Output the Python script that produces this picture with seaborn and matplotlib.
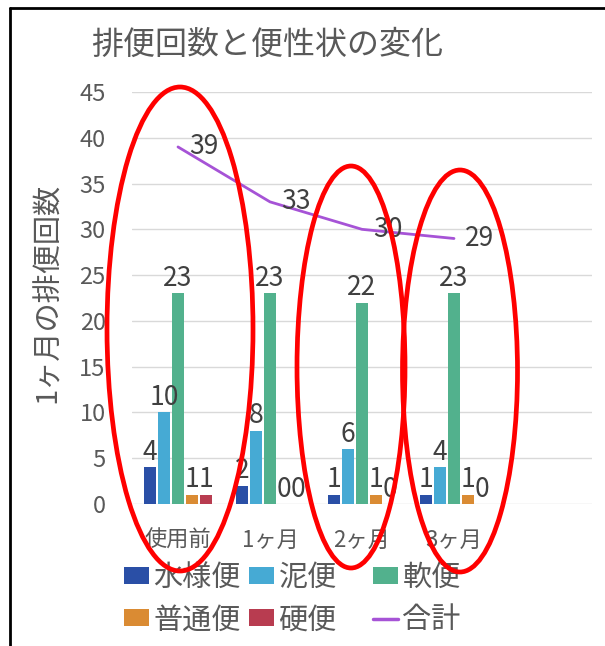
import numpy as np
import pandas as pd
import matplotlib
matplotlib.use("Agg")
import matplotlib.pyplot as plt
from matplotlib.patches import Ellipse
from matplotlib.lines import Line2D
import seaborn as sns

# ---- data ----
periods = ["使用前", "1ヶ月", "2ヶ月", "3ヶ月"]
stool_types = ["水様便", "泥便", "軟便", "普通便", "硬便"]
watery = [4, 2, 1, 1]
muddy = [10, 8, 6, 4]
soft = [23, 23, 22, 23]
normal = [1, 0, 1, 1]
hard = [1, 0, 0, 0]
total = [39, 33, 30, 29]
total_label = "合計"
y_ticks = [0, 5, 10, 15, 20, 25, 30, 35, 40, 45]

title = "排便回数と便性状の変化"
y_label = "1ヶ月の排便回数"

type_colors = ["#2A4FA6", "#46AAD4", "#52B18D", "#DA8B33", "#B83C50"]
line_color = "#A653D6"

df = pd.DataFrame({
    "period": np.repeat(periods, len(stool_types)),
    "type": stool_types * len(periods),
    "count": np.array([watery, muddy, soft, normal, hard]).T.ravel(),
})

# ---- style ----
sns.set_style("white")
plt.rcParams["font.family"] = ["Noto Sans CJK JP", "DejaVu Sans"]
text_gray = "#595959"
label_dark = "#404040"

W, H = 605, 646
fig = plt.figure(figsize=(W / 100, H / 100), dpi=100)
ax = fig.add_axes([132 / W, 1 - 504 / H, (592 - 132) / W, (504 - 92) / H])

sns.barplot(data=df, x="period", y="count", hue="type", order=periods,
            hue_order=stool_types, palette=type_colors, saturation=1,
            width=0.76, gap=0.2, linewidth=0, ax=ax, legend=False)

sns.pointplot(x=periods, y=total, order=periods, color=line_color,
              linewidth=2.0, markersize=0, errorbar=None, ax=ax)

# value labels on bars
for cont in ax.containers:
    ax.bar_label(cont, labels=[f"{int(v)}" for v in cont.datavalues],
                 padding=1, fontsize=19, color=label_dark)

# value labels on the total line
for i, v in enumerate(total):
    ax.annotate(f"{v}", xy=(i, v), xytext=(8, 0), textcoords="offset points",
                ha="left", va="center", fontsize=19, color=label_dark)

ax.set_xlim(-0.5, 4.5)
ax.set_ylim(0, 45)
ax.set_yticks(y_ticks)
ax.set_yticklabels([str(t) for t in y_ticks])
ax.grid(axis="y", color="#D9D9D9", linewidth=1.0)
ax.set_axisbelow(True)
for s in ax.spines.values():
    s.set_visible(False)
ax.tick_params(axis="y", length=0, pad=19, labelsize=17, labelcolor=text_gray)
ax.tick_params(axis="x", length=0, pad=18, labelsize=16, labelcolor=text_gray)
ax.set_xlabel("")
ax.set_ylabel("")

fig.text(267 / W, 1 - 45 / H, title, ha="center", va="center",
         fontsize=23, color=text_gray)
fig.text(48 / W, 1 - 293 / H, y_label, ha="center", va="center",
         rotation=90, fontsize=21, color=text_gray)

# legend: three columns of two entries each
bar_handles = [c.patches[0] for c in ax.containers]
line_handle = Line2D([], [], color=line_color, linewidth=2.5)
handles = bar_handles + [line_handle]
labels = stool_types + [total_label]
columns = [(0, 3), (1, 4), (2, 5)]
col_x = [124, 249, 373]
for (a, b), x0 in zip(columns, col_x):
    fig.legend([handles[a], handles[b]], [labels[a], labels[b]],
               loc="upper left", bbox_to_anchor=(x0 / W, 1 - 563 / H),
               frameon=False, fontsize=21, handlelength=0.86,
               handleheight=0.52, handletextpad=0.15, labelspacing=0.42,
               borderpad=0, borderaxespad=0, labelcolor=text_gray)

# red highlight rings
rings = [(180, 329, 146, 484), (351, 367, 108, 402), (460, 371, 115, 402)]
for cx, cy, w, h in rings:
    fig.add_artist(Ellipse((cx / W, 1 - cy / H), w / W, h / H,
                           transform=fig.transFigure, fill=False,
                           edgecolor="#FF0000", linewidth=3.4, zorder=10))

# chart frame (top and left edges)
fig.add_artist(Line2D([10 / W, 1], [1 - 8 / H, 1 - 8 / H],
                      transform=fig.transFigure, color="black", linewidth=2))
fig.add_artist(Line2D([10 / W, 10 / W], [0, 1 - 8 / H],
                      transform=fig.transFigure, color="black", linewidth=2))

fig.savefig("out.png", dpi=100)
